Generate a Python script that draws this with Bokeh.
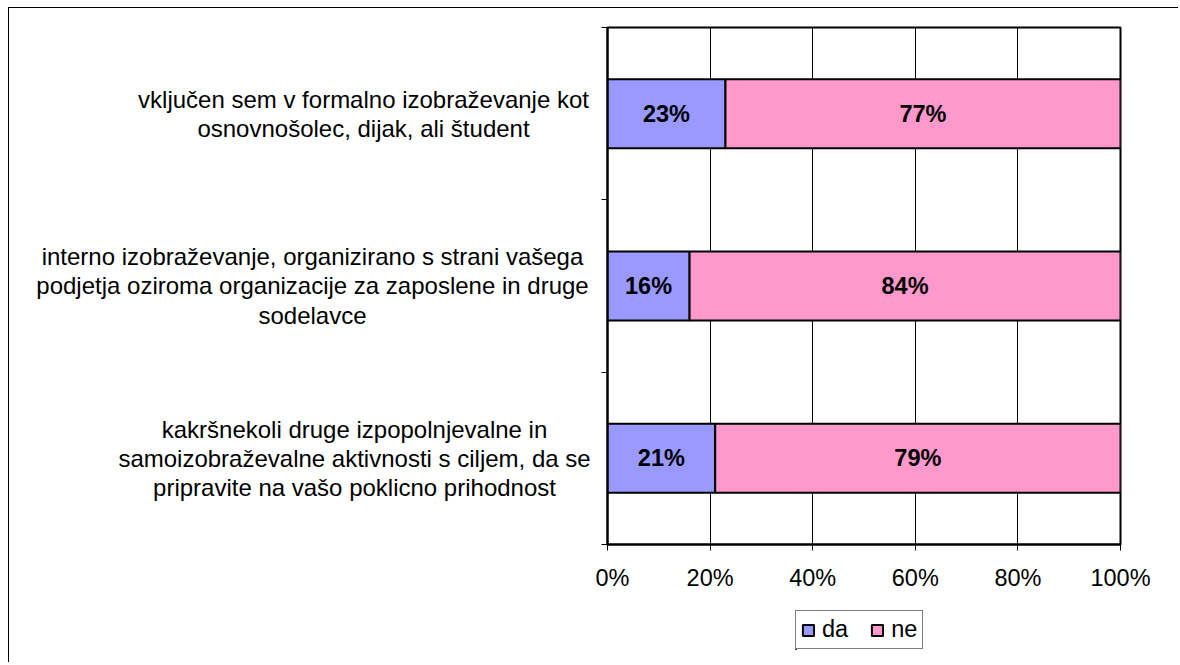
from bokeh.plotting import figure
from bokeh.models import (Range1d, FixedTicker, PrintfTickFormatter,
                          Legend, LegendItem, ColumnDataSource)
from bokeh.layouts import row, column
from bokeh.core.properties import value
from bokeh.embed import file_html
from bokeh.resources import INLINE

# ---- data ----
categories = [
    "vključen sem v formalno izobraževanje kot\nosnovnošolec, dijak, ali študent",
    "interno izobraževanje, organizirano s strani vašega\npodjetja oziroma organizacije za zaposlene in druge\nsodelavce",
    "kakršnekoli druge izpopolnjevalne in\nsamoizobraževalne aktivnosti s ciljem, da se\npripravite na vašo poklicno prihodnost",
]
da = [23, 16, 21]
ne = [77, 84, 79]
x_ticks = [0, 20, 40, 60, 80, 100]
series_names = ["da", "ne"]
colors = ["#9999FF", "#FF99CC"]

FONT = "Liberation Sans"
FS = "23.5px"
FS_LAB = "24px"

n = len(categories)
ypos = [n - 0.5 - i for i in range(n)]  # top category first

src = ColumnDataSource(dict(
    y=ypos,
    da_left=[0] * n,
    da_right=da,
    ne_left=da,
    ne_right=[a + b for a, b in zip(da, ne)],
    da_mid=[v / 2 for v in da],
    ne_mid=[a + b / 2 for a, b in zip(da, ne)],
    da_txt=[f"{v}%" for v in da],
    ne_txt=[f"{v}%" for v in ne],
))

TOP, BOTTOM = 19, 54
H = 590
MAIN_LEFT = 12
LEFT_W = 607 - 9 - MAIN_LEFT

# ---- left panel with category labels ----
lab_centers = [363 - 9, 312 - 9, 354 - 9]
lsrc = ColumnDataSource(dict(x=lab_centers, y=ypos, t=categories))
pl = figure(width=LEFT_W, height=H, output_backend="svg", toolbar_location=None,
            x_range=Range1d(0, LEFT_W), y_range=Range1d(0, n),
            x_axis_location=None, y_axis_location=None,
            min_border_left=0, min_border_right=0,
            min_border_top=TOP, min_border_bottom=BOTTOM)
pl.outline_line_color = None
pl.xgrid.grid_line_color = None
pl.ygrid.grid_line_color = None
pl.text(x="x", y="y", text="t", source=lsrc, text_align="center",
        text_baseline="middle", text_font=value(FONT), text_font_size=FS_LAB,
        text_color="black", text_line_height=1.08)

# ---- main chart ----
p = figure(width=513 + MAIN_LEFT + 58, height=H, output_backend="svg", toolbar_location=None,
           x_range=Range1d(0, 100), y_range=Range1d(0, n),
           min_border_left=MAIN_LEFT, min_border_right=58,
           min_border_top=TOP, min_border_bottom=BOTTOM)
p.background_fill_color = "white"
p.border_fill_color = "white"
p.outline_line_color = "black"
p.outline_line_width = 2

r_da = p.hbar(y="y", left="da_left", right="da_right", height=0.4, source=src,
              fill_color=colors[0], line_color="black", line_width=2)
r_ne = p.hbar(y="y", left="ne_left", right="ne_right", height=0.4, source=src,
              fill_color=colors[1], line_color="black", line_width=2)

p.text(x="da_mid", y="y", text="da_txt", source=src, text_align="center",
       text_baseline="middle", text_font=value(FONT), text_font_size=FS,
       text_font_style="bold", text_color="black")
p.text(x="ne_mid", y="y", text="ne_txt", source=src, text_align="center",
       text_baseline="middle", text_font=value(FONT), text_font_size=FS,
       text_font_style="bold", text_color="black")

p.xaxis.ticker = FixedTicker(ticks=x_ticks)
p.xaxis.formatter = PrintfTickFormatter(format="%d%%")
p.xaxis.axis_line_color = "black"
p.xaxis.axis_line_width = 2
p.xaxis.major_tick_out = 6
p.xaxis.major_tick_in = 0
p.xaxis.minor_tick_line_color = None
p.xaxis.major_tick_line_color = "black"
p.xaxis.major_label_text_font = FONT
p.xaxis.major_label_text_font_size = FS
p.xaxis.major_label_text_color = "black"
p.xaxis.major_label_standoff = 14

p.yaxis.ticker = FixedTicker(ticks=list(range(n + 1)))
p.yaxis.major_label_overrides = {i: "" for i in range(n + 1)}
p.yaxis.major_label_text_font_size = "1px"
p.yaxis.major_label_standoff = 0
p.yaxis.axis_line_color = "black"
p.yaxis.axis_line_width = 2
p.yaxis.major_tick_out = 6
p.yaxis.major_tick_in = 0
p.yaxis.minor_tick_line_color = None

p.xgrid.ticker = FixedTicker(ticks=x_ticks[1:-1])
p.xgrid.grid_line_color = "black"
p.xgrid.grid_line_width = 1
p.ygrid.grid_line_color = None

# ---- legend strip (its renderers lie outside the strip's visible ranges,
#      hidden under the legend box at the frame's corner) ----
TOTAL_W = LEFT_W + 513 + MAIN_LEFT + 58
LEG_H = 64
pg = figure(width=TOTAL_W, height=LEG_H, output_backend="svg", toolbar_location=None,
            x_range=Range1d(1000, 1100), y_range=Range1d(n + 10, n + 11),
            x_axis_location=None, y_axis_location=None,
            min_border_left=795 - 9, min_border_right=0,
            min_border_top=0, min_border_bottom=(8 + H + LEG_H) - 649)
pg.outline_line_color = None
pg.xgrid.grid_line_color = None
pg.ygrid.grid_line_color = None
g_da = pg.hbar(y="y", left="da_left", right="da_right", height=0.4, source=src,
               fill_color=colors[0], line_color="black", line_width=2)
g_ne = pg.hbar(y="y", left="ne_left", right="ne_right", height=0.4, source=src,
               fill_color=colors[1], line_color="black", line_width=2)
legend = Legend(items=[LegendItem(label=series_names[0], renderers=[g_da]),
                       LegendItem(label=series_names[1], renderers=[g_ne])],
                orientation="horizontal", location="bottom_left")
legend.label_text_font = FONT
legend.label_text_font_size = FS
legend.label_text_color = "black"
legend.glyph_width = 14
legend.glyph_height = 14
legend.label_standoff = 7
legend.spacing = 22
legend.padding = 5
legend.margin = 0
legend.border_line_color = "black"
legend.border_line_width = 1.5
legend.background_fill_color = "white"
pg.add_layout(legend)

layout = column(row(pl, p, spacing=0), pg, spacing=0)
layout.styles = {"border-left": "1px solid black", "border-top": "1px solid black",
                 "margin-left": "8px", "margin-top": "7px"}

open("out.html", "w").write(file_html(layout, INLINE))
